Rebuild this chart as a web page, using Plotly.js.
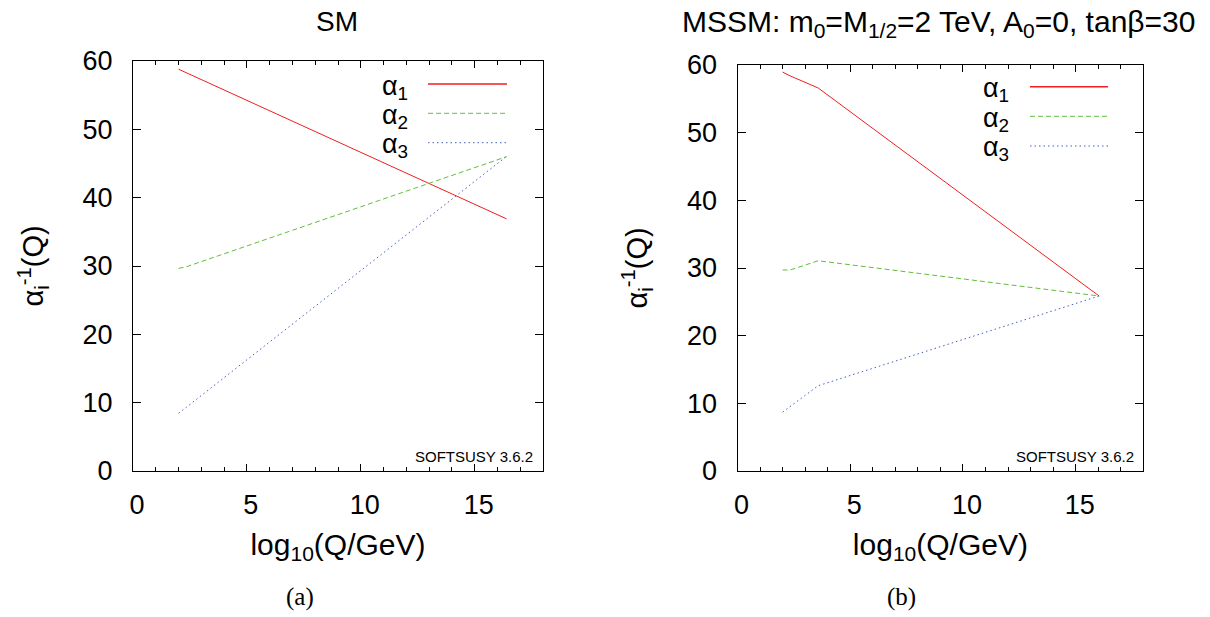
<!DOCTYPE html>
<html>
<head>
<meta charset="utf-8">
<script src="https://cdn.plot.ly/plotly-3.0.1.min.js"></script>
<style>html,body{margin:0;padding:0;background:#fff;}#chart{width:1210px;height:617px;}</style>
</head>
<body>
<div id="chart"></div>
<script>
// ---- data ----
// Panel (a): SM
var smQ   = [2.0, 2.35, 16.4];
var smA1  = [58.8, 58.27, 36.9];
var smA2  = [29.65, 29.9, 46.0];
var smA3  = [8.45, 9.35, 46.05];
// Panel (b): MSSM
var mssmQ  = [2.0, 2.33, 3.58, 16.04];
var mssmA1 = [58.95, 58.4, 56.6, 25.86];
var mssmA2 = [29.7, 29.7, 31.07, 25.86];
var mssmA3 = [8.7, 9.5, 12.6, 25.86];

var seriesNames = ['α<sub>1</sub>', 'α<sub>2</sub>', 'α<sub>3</sub>'];
var xTicks = [0, 5, 10, 15];
var yTicks = [0, 10, 20, 30, 40, 50, 60];
var titleA = 'SM';
var titleB = 'MSSM: m<sub>0</sub>=M<sub>1/2</sub>=2 TeV, A<sub>0</sub>=0, tanβ=30';
var xTitle = 'log<sub>10</sub>(Q/GeV)';
var yTitle = 'α<sub>i</sub><sup>-1</sup>(Q)';
var stamp = 'SOFTSUSY 3.6.2';
var captions = ['(a)', '(b)'];

// ---- styles ----
var W = 1210, H = 617;
function px(x){ return x / W; }
function py(y){ return 1 - y / H; }
var colors = ['rgb(240,30,30)', 'rgb(100,190,60)', 'rgb(70,95,195)'];
var dashes = ['solid', '5px,3px', '1.5px,3px'];
var FONT = 'Liberation Sans, Arial, Helvetica, sans-serif';
var SERIF = 'Liberation Serif, Times New Roman, serif';

function tr(x, y, i, xa, ya){
  return {x: x, y: y, type: 'scatter', mode: 'lines', xaxis: xa, yaxis: ya,
          line: {color: colors[i], width: 1, dash: dashes[i]}, hoverinfo: 'skip'};
}
var data = [
  tr(smQ, smA1, 0, 'x', 'y'), tr(smQ, smA2, 1, 'x', 'y'), tr(smQ, smA3, 2, 'x', 'y'),
  tr(mssmQ, mssmA1, 0, 'x2', 'y2'), tr(mssmQ, mssmA2, 1, 'x2', 'y2'), tr(mssmQ, mssmA3, 2, 'x2', 'y2')
];

function xax(dom, anchor){
  return {domain: dom, anchor: anchor, range: [0, 18], tickvals: xTicks,
    ticks: 'inside', ticklen: 7, tickwidth: 1, tickcolor: '#000',
    showline: true, linecolor: '#000', linewidth: 1, mirror: 'ticks',
    showgrid: false, zeroline: false, automargin: false,
    minor: {dtick: 1, tick0: 0, ticks: 'inside', ticklen: 4, tickcolor: '#000', showgrid: false},
    tickfont: {family: FONT, size: 27, color: '#000'}, ticklabelstandoff: 10, ticklabelshift: 4,
    title: {text: xTitle, font: {family: FONT, size: 30, color: '#000'}, standoff: 14}};
}
function yax(dom, anchor){
  return {domain: dom, anchor: anchor, range: [0, 60], tickvals: yTicks,
    ticks: 'inside', ticklen: 8, tickwidth: 1, tickcolor: '#000',
    showline: true, linecolor: '#000', linewidth: 1, mirror: 'ticks',
    showgrid: false, zeroline: false, automargin: false,
    tickfont: {family: FONT, size: 27, color: '#000'}, ticklabelstandoff: 14,
    title: {text: yTitle, font: {family: FONT, size: 29, color: '#000'}, standoff: 30}};
}

var annotations = [
  {text: titleA, x: px(337), y: py(22), xref: 'paper', yref: 'paper', showarrow: false,
   xanchor: 'center', yanchor: 'middle', font: {family: FONT, size: 28, color: '#000'}},
  {text: titleB, x: px(938), y: py(24), xref: 'paper', yref: 'paper', showarrow: false,
   xanchor: 'center', yanchor: 'middle', font: {family: FONT, size: 30, color: '#000'}},
  {text: stamp, x: px(535), y: py(457), xref: 'paper', yref: 'paper', showarrow: false,
   xanchor: 'right', yanchor: 'middle', font: {family: FONT, size: 15, color: '#000'}},
  {text: stamp, x: px(1136), y: py(457), xref: 'paper', yref: 'paper', showarrow: false,
   xanchor: 'right', yanchor: 'middle', font: {family: FONT, size: 15, color: '#000'}},
  {text: captions[0], x: px(300), y: py(597), xref: 'paper', yref: 'paper', showarrow: false,
   xanchor: 'center', yanchor: 'middle', font: {family: SERIF, size: 25, color: '#000'}},
  {text: captions[1], x: px(901), y: py(597), xref: 'paper', yref: 'paper', showarrow: false,
   xanchor: 'center', yanchor: 'middle', font: {family: SERIF, size: 25, color: '#000'}}
];
var shapes = [];
var legA = {textX: 410, lineX0: 428, lineX1: 507, ys: [84, 113.3, 142.7]};
var legB = {textX: 1011, lineX0: 1030, lineX1: 1108, ys: [86.7, 116.3, 146]};
[legA, legB].forEach(function(L){
  for (var i = 0; i < 3; i++){
    annotations.push({text: seriesNames[i], x: px(L.textX), y: py(L.ys[i] + 3), xref: 'paper', yref: 'paper',
      showarrow: false, xanchor: 'right', yanchor: 'middle', height: 27, valign: 'middle',
      font: {family: FONT, size: 27, color: '#000'}});
    shapes.push({type: 'line', xref: 'paper', yref: 'paper', x0: px(L.lineX0), x1: px(L.lineX1),
      y0: py(L.ys[i]), y1: py(L.ys[i]), line: {color: colors[i], width: i === 0 ? 1.6 : 1, dash: dashes[i]}});
  }
});

var layout = {
  width: W, height: H, margin: {l: 0, r: 0, t: 0, b: 0},
  paper_bgcolor: '#fff', plot_bgcolor: '#fff', showlegend: false,
  font: {family: FONT, color: '#000'},
  xaxis: xax([px(133), px(543)], 'y'),
  yaxis: yax([py(471), py(61)], 'x'),
  xaxis2: xax([px(737.5), px(1143.3)], 'y2'),
  yaxis2: yax([py(471), py(65)], 'x2'),
  annotations: annotations, shapes: shapes
};
Plotly.newPlot('chart', data, layout, {staticPlot: true, displayModeBar: false});
</script>
</body>
</html>
